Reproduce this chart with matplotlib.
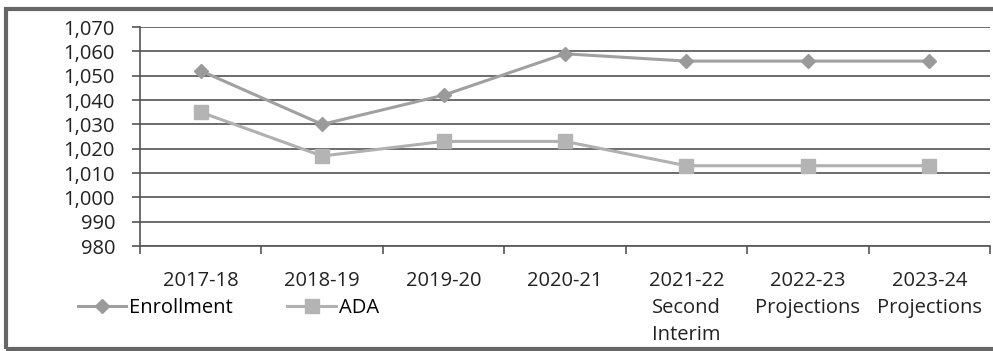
import numpy as np
import matplotlib.pyplot as plt
from matplotlib.patches import Rectangle
from matplotlib.ticker import FuncFormatter, FixedLocator

years = ['2017-18', '2018-19', '2019-20', '2020-21',
         '2021-22\nSecond\nInterim', '2022-23\nProjections', '2023-24\nProjections']
enrollment = [1052, 1030, 1042, 1059, 1056, 1056, 1056]
ada = [1035, 1017, 1023, 1023, 1013, 1013, 1013]

plt.rcParams['font.family'] = ['Open Sans', 'DejaVu Sans']

fig = plt.figure(figsize=(9.93, 3.51), dpi=100)
ax = fig.add_axes([0.141, 0.299, 0.856, 0.624])

x = np.arange(len(years))
ax.plot(x, enrollment, color='#a0a0a0', lw=2.2, marker='D', ms=7,
        mfc='#9a9a9a', mec='#9a9a9a', label='Enrollment')
ax.plot(x, ada, color='#b0b0b0', lw=2.2, marker='s', ms=10,
        mfc='#b4b4b4', mec='#b4b4b4', label='ADA')

fs = 14.5
ax.set_ylim(980, 1070)
ax.set_yticks(np.arange(980, 1071, 10))
ax.yaxis.set_major_formatter(FuncFormatter(lambda v, p: f'{int(v):,}'))
ax.set_xlim(-0.5, len(years) - 0.5)
ax.set_xticks(x)
ax.set_xticklabels(years, fontsize=fs, color='#222222', linespacing=1.45)
ax.xaxis.set_minor_locator(FixedLocator(np.arange(-0.5, len(years), 1)))
ax.tick_params(axis='x', which='major', length=0, pad=18)
ax.tick_params(axis='x', which='minor', length=6, color='#555555', width=1.2)
ax.tick_params(axis='y', length=6, color='#555555', width=1.2, labelsize=fs,
               labelcolor='#222222', pad=12)

ax.grid(axis='y', color='#444444', lw=1.1)
ax.set_axisbelow(True)
for s in ['top', 'right']:
    ax.spines[s].set_visible(False)
for s in ['left', 'bottom']:
    ax.spines[s].set_color('#555555')
    ax.spines[s].set_linewidth(1.2)

ax.legend(loc='center left', bbox_to_anchor=(-0.073, -0.284), ncol=2, frameon=False,
          fontsize=fs, handlelength=2.4, handletextpad=0.15, columnspacing=2.7,
          borderaxespad=0, borderpad=0)

fig.patches.append(Rectangle((0.006, 0.005), 1.0, 0.97, transform=fig.transFigure,
                             fill=False, ec='#666666', lw=3))

fig.savefig('out.png', dpi=100)
